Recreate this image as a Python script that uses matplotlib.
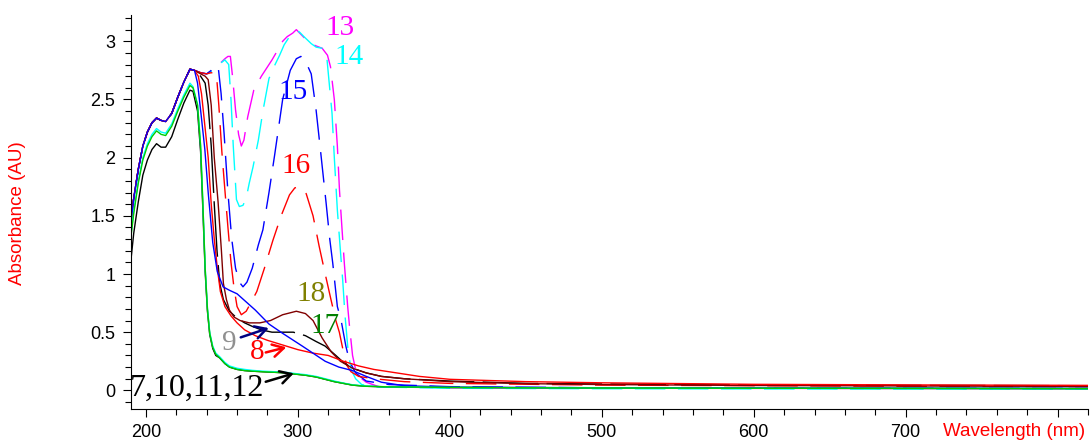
import matplotlib
matplotlib.use("Agg")
import matplotlib.pyplot as plt
from matplotlib.ticker import MultipleLocator, FixedLocator

# ---------------- data ----------------
# shared rise for the upper curves (190-232 nm)
rise_x = [190, 192, 195, 198, 201, 204, 207, 210, 213, 217, 221, 225, 229, 232]
rise_top = [1.42, 1.65, 1.90, 2.10, 2.22, 2.30, 2.34, 2.32, 2.31, 2.38, 2.52, 2.65, 2.76, 2.75]

# 13 magenta dashed
c13_x = [236, 240, 244, 248, 252, 254, 255.6, 257, 259, 261, 262.8, 264.5, 267, 271, 276, 279, 283, 287,
         290, 293, 296.6, 299, 302, 305, 308.8, 312, 316, 319.5, 321.5, 324, 326, 327.4, 329, 330.6, 332.8,
         334, 336, 338, 340, 345, 353.6, 400, 500, 600, 700, 820]
c13_y = [2.73, 2.72, 2.75, 2.80, 2.85, 2.87, 2.87, 2.70, 2.41, 2.20, 2.10, 2.15, 2.35, 2.58, 2.70, 2.76, 2.84, 2.93,
         3.00, 3.04, 3.07, 3.10, 3.06, 3.02, 2.98, 2.96, 2.94, 2.88, 2.78, 2.50, 2.10, 1.72, 1.40, 1.09, 0.72,
         0.55, 0.30, 0.18, 0.12, 0.07, 0.03, 0.022, 0.018, 0.017, 0.016, 0.015]

# 14 cyan dashed
c14_x = [236, 240, 244, 248, 252, 254.5, 256, 257.5, 259.6, 261.5, 263.9, 266, 268, 270.5, 274, 277, 281, 285,
         288, 291, 294, 296.6, 299, 301, 304, 308.8, 312, 316, 319, 322.5, 324, 326, 328, 329.5, 331, 333,
         335, 338, 342, 350, 400, 500, 600, 700, 820]
c14_y = [2.73, 2.72, 2.75, 2.80, 2.84, 2.80, 2.50, 2.10, 1.64, 1.58, 1.59, 1.65, 1.78, 1.92, 2.15, 2.40, 2.68, 2.80,
         2.88, 2.97, 3.03, 3.06, 3.09, 3.08, 3.04, 2.98, 2.95, 2.94, 2.87, 2.38, 2.00, 1.55, 1.20, 0.95, 0.65, 0.35,
         0.18, 0.10, 0.05, 0.03, 0.018, 0.014, 0.012, 0.011, 0.011]

# 15 blue dashed
c15_x = [236, 240, 244, 247.5, 249.5, 251.5, 254, 256.5, 259, 261.5, 263.9, 266.5, 270, 274, 277, 281, 284.7,
         290, 295, 299, 302, 305, 308.8, 312, 315, 318.6, 321, 323, 326, 328.5, 331.6, 334, 338, 345, 360,
         400, 500, 600, 700, 820]
c15_y = [2.73, 2.72, 2.76, 2.79, 2.55, 2.20, 1.70, 1.30, 1.05, 0.93, 0.89, 0.93, 1.05, 1.25, 1.38, 1.70, 2.02,
         2.50, 2.75, 2.85, 2.87, 2.83, 2.72, 2.41, 2.05, 1.61, 1.30, 1.09, 0.72, 0.60, 0.38, 0.25, 0.15, 0.08, 0.05,
         0.032, 0.022, 0.018, 0.018, 0.017]

# 16 red dashed
c16_x = [236, 240, 243, 246.4, 248, 250, 252, 254, 256, 258, 260, 262.8, 266, 269, 273, 278, 283.6, 289,
         294.5, 298, 301, 305.5, 310, 314, 318, 321.8, 325, 327.3, 330, 332, 335, 340, 350, 370, 400, 500,
         600, 700, 820]
c16_y = [2.73, 2.72, 2.73, 2.72, 2.45, 2.05, 1.72, 1.40, 1.10, 0.88, 0.72, 0.65, 0.68, 0.75, 0.85, 1.05, 1.29, 1.50,
         1.68, 1.74, 1.75, 1.69, 1.50, 1.24, 1.00, 0.78, 0.60, 0.50, 0.33, 0.22, 0.16, 0.12, 0.10, 0.075, 0.06, 0.045,
         0.04, 0.035, 0.032]

# 18 brown
c18_x = [236, 239, 241, 243, 245, 247.5, 249.7, 251, 253, 255, 258, 262, 268, 275, 282, 290, 299, 305, 310,
         316, 322, 328, 336, 345, 355, 370, 400, 450, 500, 600, 700, 820]
c18_y = [2.72, 2.70, 2.67, 2.45, 2.00, 1.62, 1.20, 0.92, 0.78, 0.69, 0.63, 0.60, 0.58, 0.58, 0.60, 0.65, 0.68, 0.66,
         0.60, 0.45, 0.33, 0.25, 0.19, 0.15, 0.12, 0.10, 0.075, 0.058, 0.05, 0.042, 0.038, 0.034]

# 17 black long-dash with shoulder
c17_x = [236, 239, 241, 243, 245, 246.8, 248.6, 251, 255, 260, 265, 270, 276, 283, 290, 297, 305, 312, 318,
         325, 330, 336, 345, 355, 370, 400, 450, 500, 600, 700, 820]
c17_y = [2.70, 2.64, 2.45, 2.10, 1.60, 1.20, 0.92, 0.78, 0.68, 0.62, 0.58, 0.55, 0.52, 0.50, 0.50, 0.50, 0.47,
         0.42, 0.38, 0.30, 0.24, 0.19, 0.15, 0.12, 0.10, 0.08, 0.06, 0.055, 0.047, 0.043, 0.04]

# blue solid
cb_x = [234, 236.5, 238.8, 241, 244, 247, 250.8, 255, 260, 266, 272, 281, 290, 303, 318, 327, 336, 345, 355,
        370, 400, 500, 600, 700, 820]
cb_y = [2.64, 2.35, 2.07, 1.70, 1.27, 1.02, 0.89, 0.86, 0.83, 0.76, 0.69, 0.57, 0.49, 0.38, 0.25, 0.20, 0.17,
        0.12, 0.07, 0.04, 0.028, 0.022, 0.02, 0.018, 0.017]

# 8 red solid
c8_x = [234.5, 236.6, 239, 241, 243, 245, 247, 249, 252, 256, 260, 265, 272, 280, 290, 300, 310, 320, 330,
        340, 350, 360, 380, 400, 450, 500, 600, 700, 820]
c8_y = [2.70, 2.55, 2.25, 2.00, 1.60, 1.30, 1.05, 0.85, 0.72, 0.64, 0.58, 0.52, 0.47, 0.43, 0.39, 0.35, 0.32,
        0.30, 0.25, 0.21, 0.18, 0.16, 0.12, 0.095, 0.075, 0.065, 0.052, 0.047, 0.043]

# 7,10,11,12 group (lower rise, steep drop at 240 nm)
grp_x = [190, 192, 195, 198, 201, 204, 207, 210, 213, 217, 221, 225, 229, 231, 234, 236, 237.5, 239, 240.5,
         242, 244, 246, 248.5, 252, 255, 260, 265, 270, 277, 285, 292, 298, 305, 312, 318, 324, 330, 336,
         345, 360, 400, 500, 600, 700, 820]
green_y = [1.30, 1.52, 1.78, 1.98, 2.10, 2.18, 2.23, 2.20, 2.19, 2.27, 2.40, 2.52, 2.62, 2.60, 2.45, 2.10, 1.60,
           1.05, 0.70, 0.49, 0.37, 0.31, 0.28, 0.23, 0.20, 0.18, 0.17, 0.165, 0.16, 0.155, 0.15, 0.14, 0.13,
           0.115, 0.095, 0.075, 0.06, 0.045, 0.035, 0.03, 0.025, 0.02, 0.018, 0.017, 0.015]
cyan_y = [1.32, 1.54, 1.80, 2.00, 2.12, 2.20, 2.25, 2.22, 2.21, 2.29, 2.42, 2.54, 2.64, 2.61, 2.46, 2.11, 1.61,
          1.06, 0.71, 0.50, 0.38, 0.32, 0.29, 0.24, 0.21, 0.19, 0.18, 0.172, 0.165, 0.16, 0.155, 0.145, 0.135,
          0.12, 0.10, 0.08, 0.063, 0.048, 0.037, 0.03, 0.025, 0.02, 0.018, 0.017, 0.015]
black_y = [1.10, 1.35, 1.62, 1.85, 1.98, 2.07, 2.12, 2.09, 2.09, 2.18, 2.33, 2.47, 2.58, 2.57, 2.40, 2.05, 1.55,
           1.02, 0.68, 0.48, 0.36, 0.30, 0.28, 0.23, 0.20, 0.18, 0.17, 0.165, 0.16, 0.155, 0.15, 0.14, 0.13,
           0.115, 0.095, 0.075, 0.06, 0.045, 0.035, 0.03, 0.025, 0.02, 0.018, 0.017, 0.015]

labels = ["13", "14", "15", "16", "18", "17", "9", "8", "7,10,11,12"]
label_x = [327.5, 333.4, 296.6, 298.6, 308.5, 317.6, 254.6, 273.0, 233.6]
label_y = [3.11, 2.865, 2.56, 1.93, 0.83, 0.55, 0.41, 0.33, 0.02]
label_colors = ["#FF00FF", "#00FFFF", "#0000FF", "#FF0000", "#808000", "#008000", "#909090", "#FF0000", "black"]

x_ticks = [200, 300, 400, 500, 600, 700, 800]
x_ticklabels = ["200", "300", "400", "500", "600", "700", ""]
y_ticks = [0, 0.5, 1, 1.5, 2, 2.5, 3]
y_ticklabels = ["0", "0.5", "1", "1.5", "2", "2.5", "3"]

# ---------------- plotting ----------------
fig = plt.figure(figsize=(10.9, 4.46), dpi=100)
ax = fig.add_axes([0.1199, 0.0830, 0.8783, 0.8834])

def upper(x, y):
    return rise_x + x, rise_top + y

dash = (22, 9)
lw = 1.0
ax.plot(*upper(c13_x, c13_y), color="#FF00FF", lw=lw, dashes=dash)
ax.plot(*upper(c14_x, c14_y), color="#00FFFF", lw=lw, dashes=dash)
ax.plot(*upper(c15_x, c15_y), color="#0000FF", lw=lw, dashes=dash)
ax.plot(*upper(c16_x, c16_y), color="#FF0000", lw=lw, dashes=dash)
ax.plot(*upper(c17_x, c17_y), color="black", lw=lw, dashes=(40, 6))
ax.plot(*upper(c18_x, c18_y), color="#800000", lw=lw)
ax.plot(*upper(c8_x, c8_y), color="#FF0000", lw=lw)
ax.plot(*upper(cb_x, cb_y), color="#0000FF", lw=lw)
ax.plot(grp_x, black_y, color="black", lw=lw)
ax.plot(grp_x, cyan_y, color="#00FFFF", lw=lw)
ax.plot(grp_x, green_y, color="#00CC00", lw=lw)

for t, x, y, c in zip(labels, label_x, label_y, label_colors):
    fs = 23 if t.startswith("7") else 21
    ax.text(x, y, t, color=c, fontsize=fs, family="Liberation Serif", ha="center", va="center")

arrow_kw = dict(arrowstyle="->,head_length=0.8,head_width=0.45", lw=1.8)
ax.annotate("", xy=(282.6, 0.543), xytext=(260.7, 0.448),
            arrowprops=dict(color="#000080", **arrow_kw))
ax.annotate("", xy=(294.2, 0.376), xytext=(277.1, 0.32),
            arrowprops=dict(color="#FF0000", **arrow_kw))
ax.annotate("", xy=(299.1, 0.153), xytext=(277.1, 0.067),
            arrowprops=dict(color="black", **arrow_kw))

ax.set_xlim(190, 820)
ax.set_ylim(-0.16, 3.226)
ax.spines["top"].set_visible(False)
ax.spines["right"].set_visible(False)
ax.xaxis.set_major_locator(FixedLocator(x_ticks))
ax.set_xticklabels(x_ticklabels)
ax.xaxis.set_minor_locator(MultipleLocator(20))
ax.yaxis.set_major_locator(FixedLocator(y_ticks))
ax.set_yticklabels(y_ticklabels)
ax.yaxis.set_minor_locator(MultipleLocator(0.1))
ax.tick_params(which="major", length=6, width=0.8, labelsize=13, pad=5)
ax.tick_params(which="minor", length=4, width=0.8)
for lab in ax.get_xticklabels() + ax.get_yticklabels():
    lab.set_family("Liberation Sans")

fig.text(18 / 1090, 1 - 213 / 446, "Absorbance (AU)", color="red", rotation=90,
         ha="center", va="center", fontsize=13.5, family="Liberation Sans")
fig.text(1085 / 1090, 1 - 432 / 446, "Wavelength (nm)", color="red",
         ha="right", va="center", fontsize=13.5, family="Liberation Sans")

fig.savefig("out.png", dpi=100)
